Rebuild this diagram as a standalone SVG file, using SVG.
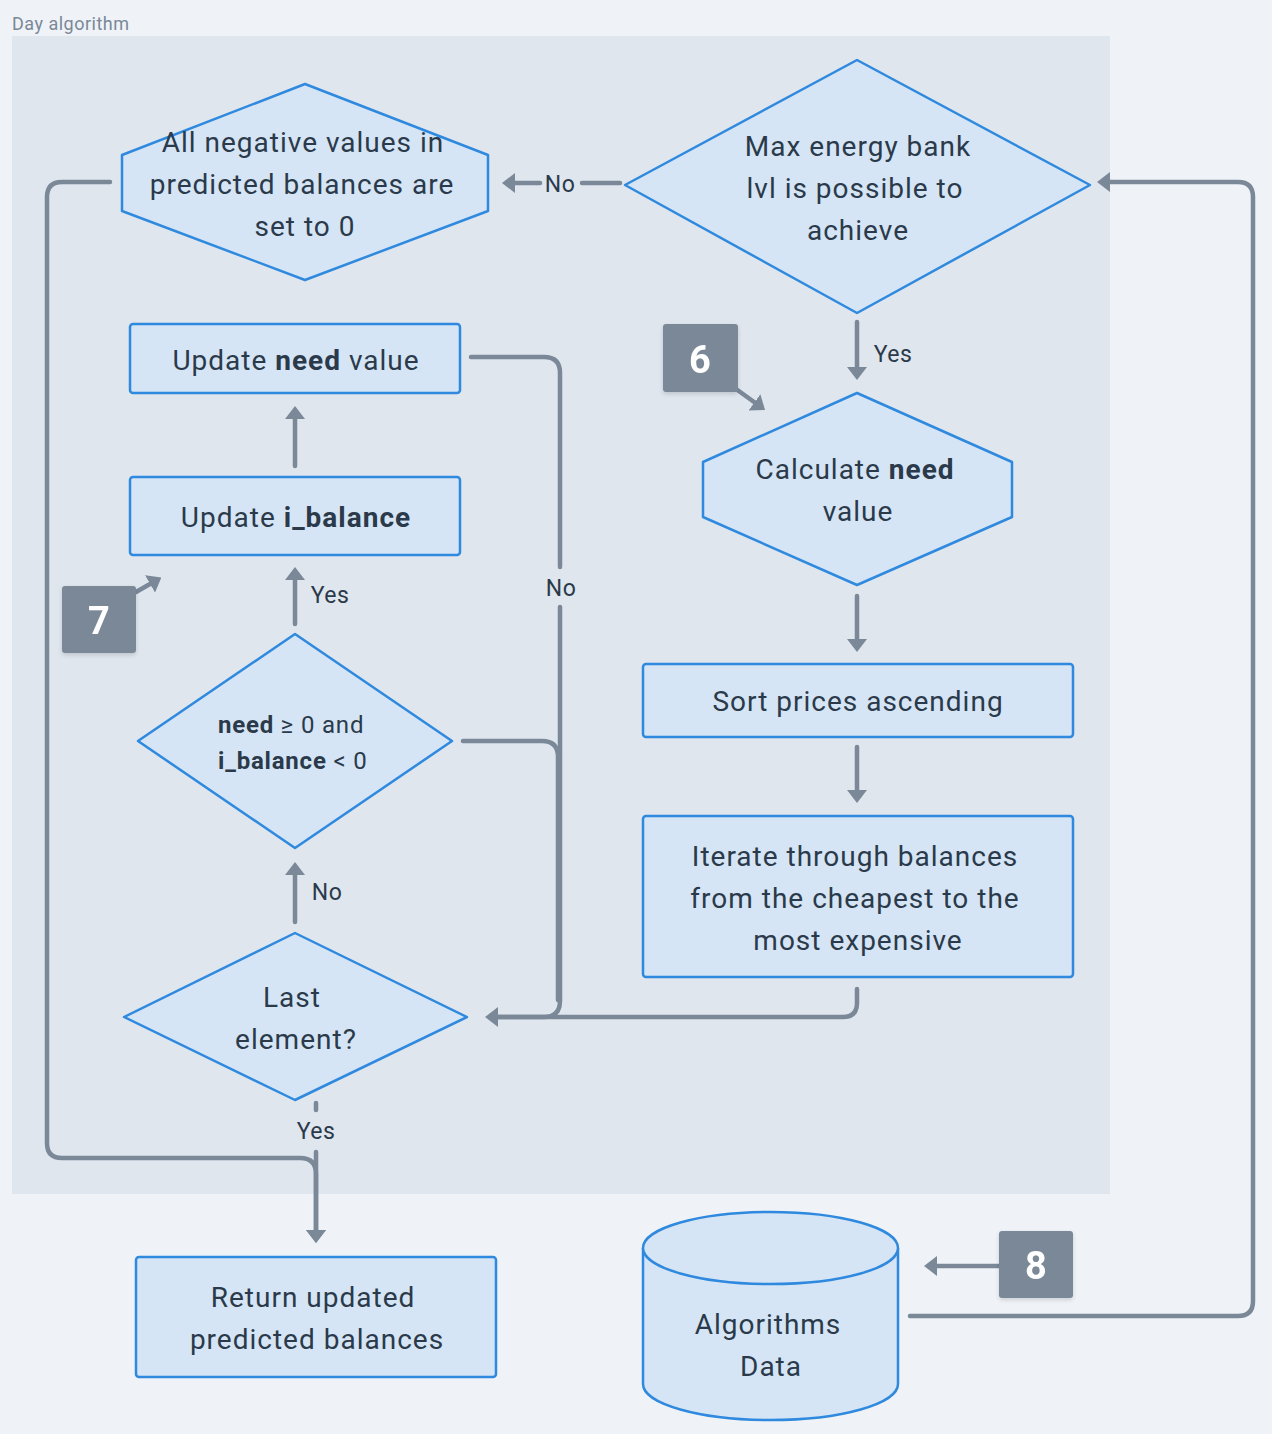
<svg xmlns="http://www.w3.org/2000/svg" width="1272" height="1434" viewBox="0 0 1272 1434">
<style>
.bg{fill:#eff3f7}
.grp{fill:#dfe6ee}
.title{font-family:Roboto,"Liberation Sans",sans-serif;font-size:18px;letter-spacing:0.5px;fill:#7a8898}
.node{fill:#d5e5f5;stroke:#2f89de;stroke-width:2.5;stroke-linejoin:round}
.t{font-family:Roboto,"Liberation Sans",sans-serif;font-size:28px;letter-spacing:1px;fill:#2b3a4a;text-anchor:middle;dominant-baseline:central}
.ts{font-family:Roboto,"Liberation Sans",sans-serif;font-size:24px;letter-spacing:0.8px;fill:#2b3a4a;dominant-baseline:central}
.b{font-weight:bold}
.c{fill:none;stroke:#7a8898;stroke-width:4.5;stroke-linecap:round;stroke-linejoin:round}
.lbl{font-family:Roboto,"Liberation Sans",sans-serif;font-size:23px;letter-spacing:0.5px;fill:#2b3a4a;text-anchor:middle;dominant-baseline:central}
.badge{fill:#7a8898}
.bt{font-family:Roboto,"Liberation Sans",sans-serif;font-size:38px;font-weight:bold;fill:#ffffff;text-anchor:middle;dominant-baseline:central}
</style>
<defs>
<marker id="ah" viewBox="0 0 13 20" refX="8" refY="10" markerWidth="13" markerHeight="20" markerUnits="userSpaceOnUse" orient="auto">
<path d="M0,0 L13,10 L0,20 z" fill="#7a8898"/>
</marker>
<filter id="sh" x="-20%" y="-20%" width="140%" height="140%">
<feDropShadow dx="0" dy="2" stdDeviation="2" flood-color="#000000" flood-opacity="0.15"/>
</filter>
</defs>
<rect class="bg" x="0" y="0" width="1272" height="1434"/>
<rect class="grp" x="12" y="36" width="1098" height="1158"/>
<text class="title" x="12" y="30">Day algorithm</text>

<g id="connectors">
<path class="c" d="M620,183 L582,183"/>
<path class="c" d="M540,183 L507,183" marker-end="url(#ah)"/>
<text class="lbl" x="560" y="184">No</text>
<path class="c" d="M857,322 L857,375" marker-end="url(#ah)"/>
<text class="lbl" x="893" y="354">Yes</text>
<path class="c" d="M857,596 L857,647" marker-end="url(#ah)"/>
<path class="c" d="M857,747 L857,798" marker-end="url(#ah)"/>
<path class="c" d="M857,989 L857,1003 Q857,1017 843,1017 L490,1017" marker-end="url(#ah)"/>
<path class="c" d="M471,357 L544,357 Q560,357 560,373 L560,567"/>
<path class="c" d="M560,607 L560,1001 Q560,1017 544,1017 L490,1017"/>
<text class="lbl" x="561" y="588">No</text>
<path class="c" d="M463,741 L542,741 Q558,741 558,757 L558,1000"/>
<path class="c" d="M295,922 L295,867" marker-end="url(#ah)"/>
<text class="lbl" x="327" y="892">No</text>
<path class="c" d="M295,624 L295,572" marker-end="url(#ah)"/>
<text class="lbl" x="330" y="595">Yes</text>
<path class="c" d="M295,466 L295,411" marker-end="url(#ah)"/>
<path class="c" d="M316,1103 L316,1110"/>
<text class="lbl" x="316" y="1131">Yes</text>
<path class="c" d="M316,1152 L316,1238" marker-end="url(#ah)"/>
<path class="c" d="M110,182 L62,182 Q47,182 47,197 L47,1143 Q47,1158 62,1158 L300,1158 Q316,1158 316,1174 L316,1238" marker-end="url(#ah)"/>
<path class="c" d="M910,1316 L1238,1316 Q1253,1316 1253,1301 L1253,197 Q1253,182 1238,182 L1102,182" marker-end="url(#ah)"/>
<path class="c" d="M736,389 L761,407" marker-end="url(#ah)"/>
<path class="c" d="M136,592 L157,580" marker-end="url(#ah)"/>
<path class="c" d="M999,1266 L929,1266" marker-end="url(#ah)"/>
</g>

<g id="n-all-negative">
<polygon class="node" points="305,84 488,155 488,211 305,280 122,211 122,155"/>
<text class="t" x="303" y="142">All negative values in</text>
<text class="t" x="302" y="184">predicted balances are</text>
<text class="t" x="305" y="226">set to 0</text>
</g>
<g id="n-max-energy">
<polygon class="node" points="857,60 1090,185 857,313 625,185"/>
<text class="t" x="858" y="146">Max energy bank</text>
<text class="t" x="855" y="188">lvl is possible to</text>
<text class="t" x="858" y="230">achieve</text>
</g>
<g id="n-update-need">
<rect class="node" x="130" y="324" width="330" height="69" rx="3"/>
<text class="t" x="296" y="360">Update <tspan class="b">need</tspan> value</text>
</g>
<g id="n-update-ibalance">
<rect class="node" x="130" y="477" width="330" height="78" rx="3"/>
<text class="t" x="296" y="517">Update <tspan class="b">i_balance</tspan></text>
</g>
<g id="n-calculate-need">
<polygon class="node" points="857,393 1012,462 1012,517 857,585 703,517 703,462"/>
<text class="t" x="855" y="469">Calculate <tspan class="b">need</tspan></text>
<text class="t" x="858" y="511">value</text>
</g>
<g id="n-sort">
<rect class="node" x="643" y="664" width="430" height="73" rx="3"/>
<text class="t" x="858" y="701">Sort prices ascending</text>
</g>
<g id="n-iterate">
<rect class="node" x="643" y="816" width="430" height="161" rx="3"/>
<text class="t" x="855" y="856">Iterate through balances</text>
<text class="t" x="855" y="898">from the cheapest to the</text>
<text class="t" x="858" y="940">most expensive</text>
</g>
<g id="n-need-cond">
<polygon class="node" points="295,634 452,741 295,848 138,741"/>
<text class="ts" x="218" y="725"><tspan class="b">need</tspan> ≥ 0 and</text>
<text class="ts" x="218" y="761"><tspan class="b">i_balance</tspan> &lt; 0</text>
</g>
<g id="n-last-element">
<polygon class="node" points="295,933 467,1017 295,1100 124,1017"/>
<text class="t" x="292" y="997">Last</text>
<text class="t" x="296" y="1039">element?</text>
</g>
<g id="n-return">
<rect class="node" x="136" y="1257" width="360" height="120" rx="3"/>
<text class="t" x="313" y="1297">Return updated</text>
<text class="t" x="317" y="1339">predicted balances</text>
</g>
<g id="n-algorithms-data">
<path class="node" d="M643,1248 L643,1384 A127.5,36 0 0 0 898,1384 L898,1248 A127.5,36 0 0 0 643,1248 Z"/>
<path class="node" d="M643,1248 A127.5,36 0 0 0 898,1248" fill="none"/>
<text class="t" x="768" y="1324">Algorithms</text>
<text class="t" x="771" y="1366">Data</text>
</g>
<g id="badge-6" filter="url(#sh)">
<rect class="badge" x="663" y="324" width="75" height="68" rx="3"/>
<text class="bt" x="700" y="360">6</text>
</g>
<g id="badge-7" filter="url(#sh)">
<rect class="badge" x="62" y="586" width="74" height="67" rx="3"/>
<text class="bt" x="99" y="621">7</text>
</g>
<g id="badge-8" filter="url(#sh)">
<rect class="badge" x="999" y="1231" width="74" height="67" rx="3"/>
<text class="bt" x="1036" y="1266">8</text>
</g>
</svg>
